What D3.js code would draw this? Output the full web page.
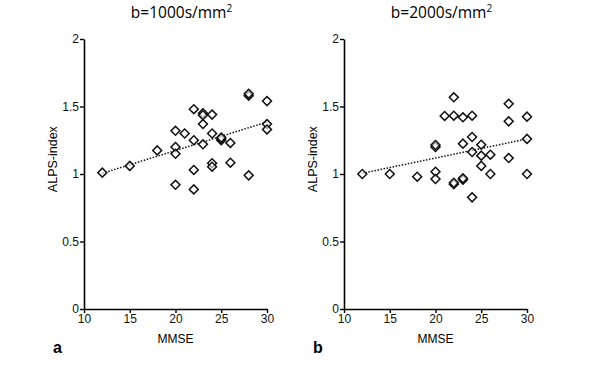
<!DOCTYPE html>
<html>
<head>
<meta charset="utf-8">
<script src="https://cdn.jsdelivr.net/npm/d3@7"></script>
<style>
  body { margin: 0; background: #fff; }
  svg { display: block; }
</style>
</head>
<body>
<svg id="chart" width="600" height="372"></svg>
<script>
// panel a, b=1000
const mmseA = [12, 15, 18, 20, 20, 20, 20, 21, 22, 22, 22, 22, 23, 23, 23, 23, 24, 24, 24, 24, 25, 25, 25, 26, 26, 28, 28, 28, 30, 30, 30];
const alpsA = [1.01, 1.06, 1.175, 1.32, 1.20, 1.15, 0.92, 1.30, 1.48, 1.25, 1.03, 0.886, 1.45, 1.435, 1.37, 1.22, 1.44, 1.30, 1.08, 1.054, 1.25, 1.26, 1.27, 1.23, 1.084, 1.58, 1.595, 0.99, 1.54, 1.37, 1.33];
// panel b, b=2000
const mmseB = [12, 15, 18, 20, 20, 20, 20, 21, 22, 22, 22, 22, 23, 23, 23, 23, 24, 24, 24, 24, 25, 25, 25, 26, 26, 28, 28, 28, 30, 30, 30];
const alpsB = [1.0, 1.0, 0.98, 1.20, 1.215, 1.017, 0.963, 1.43, 1.568, 1.432, 0.925, 0.935, 1.42, 1.225, 0.958, 0.968, 1.432, 1.274, 1.163, 0.827, 1.217, 1.136, 1.06, 1.143, 1.0, 1.52, 1.39, 1.118, 1.425, 1.26, 1.0];
// regression lines [x0, x1] -> [y0, y1]
const trendX = [12, 30];
const trendA = [1.005, 1.385];
const trendB = [1.005, 1.26];

const xTicks = [10, 15, 20, 25, 30];
const yTicks = [0, 0.5, 1, 1.5, 2];
const titles = ["b=1000s/mm", "b=2000s/mm"];
const panelLabels = ["a", "b"];

const svg = d3.select('#chart');

const panels = [
    { left: 84, mmse: mmseA, alps: alpsA, trend: trendA },
    { left: 344, mmse: mmseB, alps: alpsB, trend: trendB }
];

const plotW = 183;
const plotTop = 39, plotBottom = 309;

panels.forEach((p, k) => {
    const g = svg.append('g').attr('transform', `translate(${p.left},0)`);

    const xScale = d3.scaleLinear().domain([10, 30]).range([0, plotW]);
    const yScale = d3.scaleLinear().domain([0, 2]).range([plotBottom, plotTop]);

    // title
    const t = g.append('text')
        .attr('x', plotW / 2 + 6)
        .attr('y', 18)
        .attr('text-anchor', 'middle')
        .style('font-family', 'Open Sans')
        .style('font-size', '15.5px')
        .text(titles[k]);
    t.append('tspan')
        .attr('dy', -6)
        .style('font-size', '10px')
        .text('2');

    const xAxis = d3.axisBottom(xScale).tickValues(xTicks).tickSize(4).tickSizeOuter(0).tickPadding(1);
    const yAxis = d3.axisLeft(yScale).tickValues(yTicks).tickSize(4).tickSizeOuter(0).tickPadding(1)
        .tickFormat(d3.format(''));

    const gx = g.append('g').attr('transform', `translate(0,${plotBottom})`).call(xAxis);
    const gy = g.append('g').call(yAxis);

    [gx, gy].forEach(ax => {
        ax.select('.domain').attr('stroke-width', 1.6);
        ax.selectAll('.tick line').attr('stroke-width', 1.4);
        ax.selectAll('.tick text')
            .style('font-family', 'Liberation Sans')
            .style('font-size', '12px')
            .attr('fill', '#111');
    });

    // axis titles
    g.append('text')
        .attr('x', plotW / 2)
        .attr('y', 343)
        .attr('text-anchor', 'middle')
        .style('font-family', 'Liberation Sans')
        .style('font-size', '12px')
        .text('MMSE');

    g.append('text')
        .attr('transform', `translate(-27,${yScale(1.11)}) rotate(-90)`)
        .attr('text-anchor', 'middle')
        .style('font-family', 'Liberation Sans')
        .style('font-size', '12.5px')
        .text('ALPS-index');

    g.append('text')
        .attr('x', -31)
        .attr('y', 353)
        .style('font-family', 'Liberation Sans')
        .style('font-weight', 'bold')
        .style('font-size', '16px')
        .text(panelLabels[k]);

    // dotted regression line
    const lineFn = d3.line().x(d => xScale(d[0])).y(d => yScale(d[1]));
    g.append('path')
        .datum(trendX.map((x, i) => [x, p.trend[i]]))
        .attr('d', lineFn)
        .attr('fill', 'none')
        .attr('stroke', '#111')
        .attr('stroke-width', 1.5)
        .attr('stroke-dasharray', '1.5,1.6');

    // diamonds
    const sym = d3.symbol().type(d3.symbolSquare).size(40);
    g.selectAll('path.pt')
        .data(p.mmse.map((x, i) => [x, p.alps[i]]))
        .join('path')
        .attr('class', 'pt')
        .attr('d', sym)
        .attr('transform', d => `translate(${xScale(d[0])},${yScale(d[1])}) rotate(45)`)
        .attr('fill', 'white')
        .attr('fill-opacity', 0.6)
        .attr('stroke', '#111')
        .attr('stroke-width', 1.5);
});
</script>
</body>
</html>
